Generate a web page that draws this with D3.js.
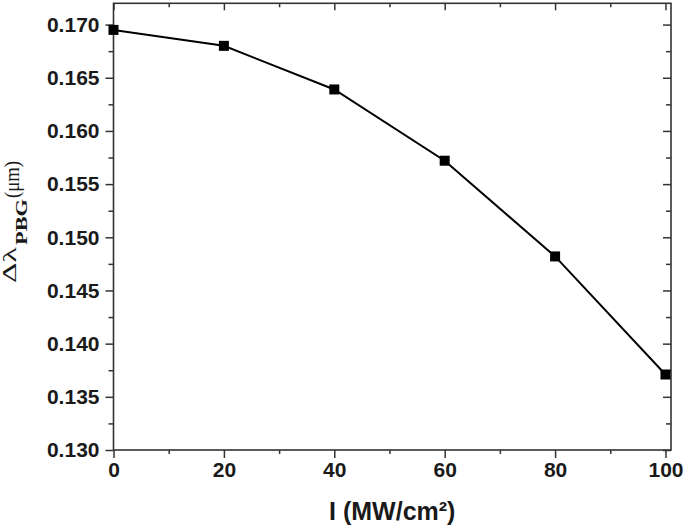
<!DOCTYPE html>
<html><head><meta charset="utf-8">
<script src="https://cdn.jsdelivr.net/npm/d3@7/dist/d3.min.js"></script>
<style>body{margin:0;background:#fff}svg{display:block}</style>
</head><body>
<script>
const intensity = [0, 20, 40, 60, 80, 100];
const deltaLambda = [0.1695, 0.1680, 0.1639, 0.1572, 0.1482, 0.1371];
const xTicks = [0, 20, 40, 60, 80, 100];
const yTicks = [0.130, 0.135, 0.140, 0.145, 0.150, 0.155, 0.160, 0.165, 0.170];

const W = 685, H = 527;
const L = 113.5, R = 671, T = 3.3, B = 450;
const svg = d3.select("body").append("svg").attr("width", W).attr("height", H);
const x = d3.scaleLinear().domain([0, 101]).range([L, R]);
const y = d3.scaleLinear().domain([0.130, 0.172]).range([B, T]);
const axisColor = "#333";
const font = "'Liberation Sans', Arial, sans-serif";

function style(g){
  g.select(".domain").remove();
  g.selectAll("line").attr("stroke", axisColor).attr("stroke-width", 1.5);
  g.selectAll("text").attr("font-family", font).attr("font-weight", "bold").attr("fill", "#1a1a1a");
}
const xMinor = d3.range(10, 101, 20);
const yMinor = d3.range(0.1325, 0.172, 0.005);

// bottom axis
svg.append("g").attr("transform", `translate(0,${B})`)
  .call(d3.axisBottom(x).tickValues(xTicks).tickFormat(d3.format("d")).tickSize(8).tickPadding(4))
  .call(style).call(g => g.selectAll("text").attr("font-size", 21));
svg.append("g").attr("transform", `translate(0,${B})`)
  .call(d3.axisBottom(x).tickValues(xMinor).tickFormat("").tickSize(4)).call(style);
// top axis (inward)
svg.append("g").attr("transform", `translate(0,${T})`)
  .call(d3.axisBottom(x).tickValues(xTicks).tickFormat("").tickSize(7)).call(style);
svg.append("g").attr("transform", `translate(0,${T})`)
  .call(d3.axisBottom(x).tickValues(xMinor).tickFormat("").tickSize(4)).call(style);
// left axis
svg.append("g").attr("transform", `translate(${L},0)`)
  .call(d3.axisLeft(y).tickValues(yTicks).tickFormat(d3.format(".3f")).tickSize(8).tickPadding(6))
  .call(style).call(g => g.selectAll("text").attr("font-size", 21));
svg.append("g").attr("transform", `translate(${L},0)`)
  .call(d3.axisLeft(y).tickValues(yMinor).tickFormat("").tickSize(5)).call(style);
// right axis (inward)
svg.append("g").attr("transform", `translate(${R},0)`)
  .call(d3.axisLeft(y).tickValues(yTicks).tickFormat("").tickSize(8)).call(style);
svg.append("g").attr("transform", `translate(${R},0)`)
  .call(d3.axisLeft(y).tickValues(yMinor).tickFormat("").tickSize(5)).call(style);

// frame
svg.append("rect").attr("x", L).attr("y", T).attr("width", R - L).attr("height", B - T)
  .attr("fill", "none").attr("stroke", axisColor).attr("stroke-width", 1.6);

// line + markers
const data = intensity.map((v, i) => ({x: v, y: deltaLambda[i]}));
svg.append("path").datum(data)
  .attr("d", d3.line().x(d => x(d.x)).y(d => y(d.y)))
  .attr("fill", "none").attr("stroke", "#000").attr("stroke-width", 2);
svg.append("g").selectAll("rect").data(data).join("rect")
  .attr("x", d => x(d.x) - 5).attr("y", d => y(d.y) - 5)
  .attr("width", 10).attr("height", 10).attr("fill", "#000");

// x title
svg.append("text").attr("x", (L + R) / 2).attr("y", 520).attr("text-anchor", "middle")
  .attr("font-family", font).attr("font-weight", "bold").attr("font-size", 25).attr("fill", "#1a1a1a")
  .text("I (MW/cm²)");

// y title (rotated group: u = -imageY, v = imageX)
const serif = "'Liberation Serif', 'Times New Roman', serif";
const yg = svg.append("g").attr("transform", "rotate(-90)")
  .attr("font-family", serif).attr("fill", "#1a1a1a");
yg.append("text").attr("x", -283).attr("y", 16).attr("font-size", 19)
  .attr("textLength", 36).attr("lengthAdjust", "spacingAndGlyphs").text("Δλ");
yg.append("text").attr("x", -245).attr("y", 27).attr("font-size", 17).attr("font-weight", "bold")
  .attr("textLength", 46).attr("lengthAdjust", "spacingAndGlyphs").text("PBG");
yg.append("text").attr("x", -198).attr("y", 19).attr("font-size", 21)
  .attr("textLength", 37).attr("lengthAdjust", "spacingAndGlyphs").text("(μm)");
</script>
</body></html>
